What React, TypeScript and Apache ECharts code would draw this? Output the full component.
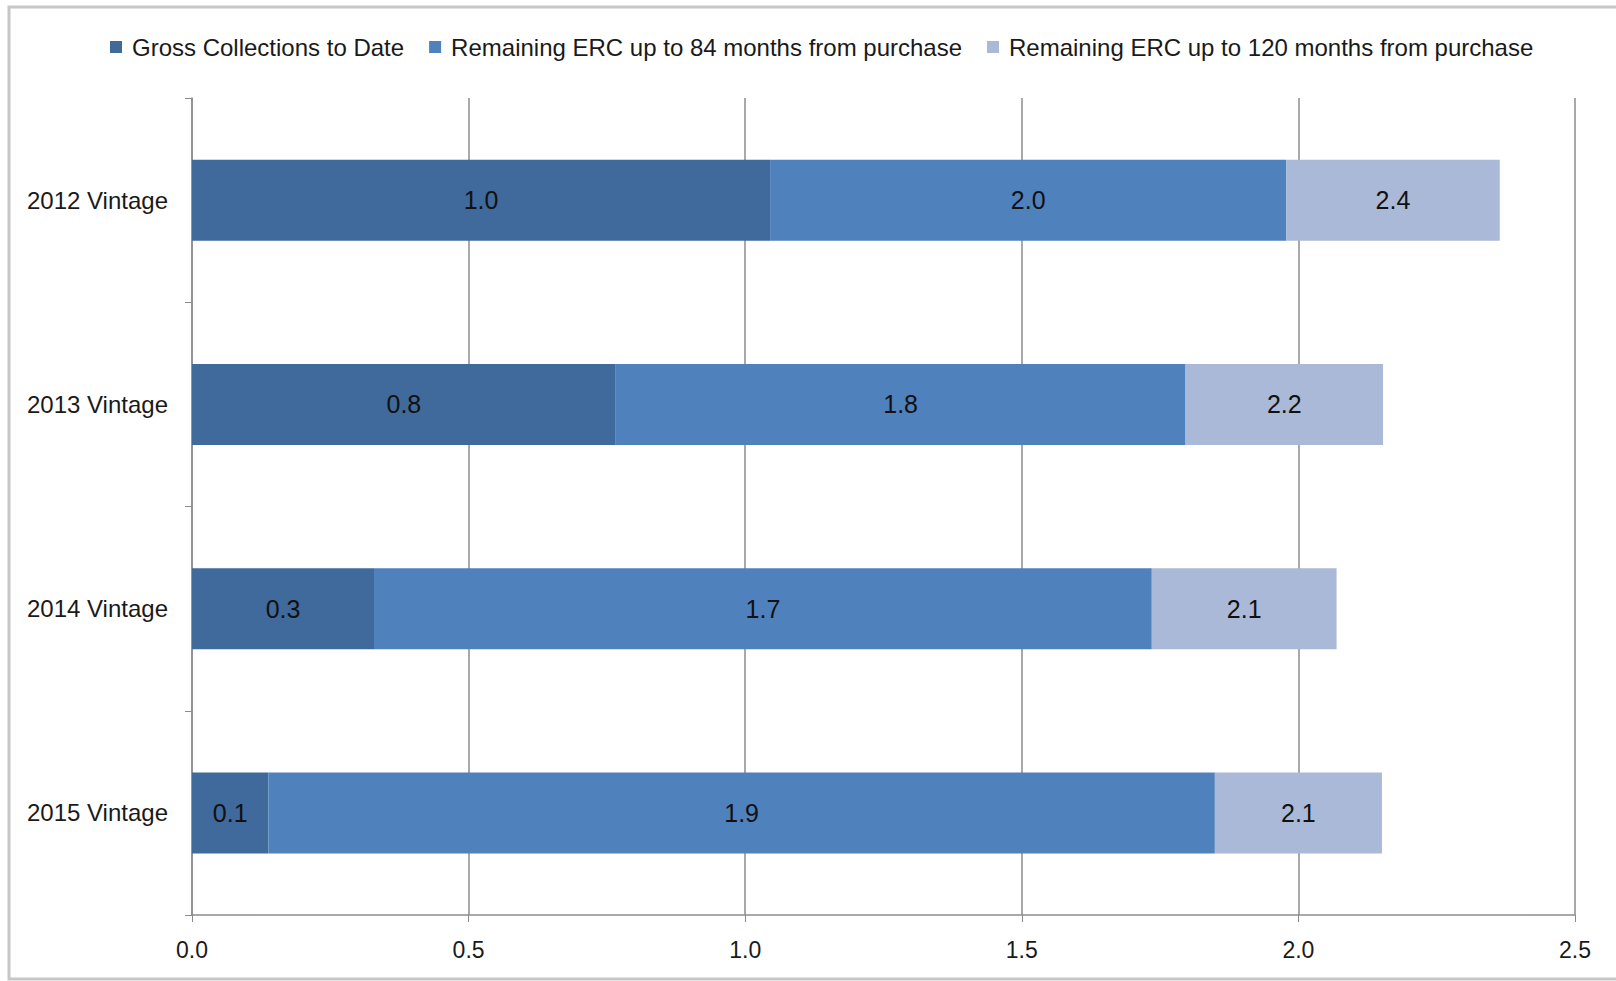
import React, { useEffect, useRef } from "react";
import * as echarts from "echarts";

const categories = ["2012 Vintage", "2013 Vintage", "2014 Vintage", "2015 Vintage"];
const seriesNames = [
  "Gross Collections to Date",
  "Remaining ERC up to 84 months from purchase",
  "Remaining ERC up to 120 months from purchase",
];
// segment lengths (stacked)
const grossCollections = [1.045, 0.766, 0.329, 0.138];
const remaining84 = [0.933, 1.03, 1.406, 1.711];
const remaining120 = [0.386, 0.357, 0.334, 0.302];
// data labels as printed on the chart
const grossLabels = ["1.0", "0.8", "0.3", "0.1"];
const remaining84Labels = ["2.0", "1.8", "1.7", "1.9"];
const remaining120Labels = ["2.4", "2.2", "2.1", "2.1"];
const xTicks = { min: 0, max: 2.5, interval: 0.5 };

const colors = ["#3F6A9B", "#4F81BD", "#AAB9D7"];
const FONT = "'Liberation Sans', Arial, sans-serif";

export default function App() {
  const ref = useRef<HTMLDivElement>(null);
  useEffect(() => {
    if (!ref.current) return;
    const chart = echarts.init(ref.current, undefined, { renderer: "svg" });
    const values = [grossCollections, remaining84, remaining120];
    const labels = [grossLabels, remaining84Labels, remaining120Labels];
    chart.setOption({
      animation: false,
      backgroundColor: "#ffffff",
      textStyle: { fontFamily: FONT },
      graphic: [
        {
          type: "rect",
          shape: { x: 9, y: 7, width: 1630, height: 972 },
          style: { fill: "none", stroke: "#c6c6c6", lineWidth: 3 },
          silent: true,
        },
      ],
      legend: {
        top: 30,
        left: 105,
        itemWidth: 12,
        itemHeight: 12,
        itemGap: 25,
        icon: "rect",
        textStyle: { fontFamily: FONT, fontSize: 24, color: "#1a1a1a", padding: [0, 0, 0, 5] },
        data: seriesNames,
      },
      grid: { left: 192, right: 41, top: 98, bottom: 66, containLabel: false },
      xAxis: {
        type: "value",
        min: xTicks.min,
        max: xTicks.max,
        interval: xTicks.interval,
        axisLine: { show: true, lineStyle: { color: "#8c8c8c", width: 1.5 } },
        axisTick: { show: true, length: 7, lineStyle: { color: "#8c8c8c" } },
        splitLine: { show: true, lineStyle: { color: "#8c8c8c", width: 1.5 } },
        axisLabel: {
          margin: 23,
          fontFamily: FONT,
          fontSize: 23,
          color: "#1a1a1a",
          formatter: (v: number) => v.toFixed(1),
        },
      },
      yAxis: {
        type: "category",
        inverse: true,
        data: categories,
        axisLine: { show: true, lineStyle: { color: "#8c8c8c", width: 1.5 } },
        axisTick: { show: true, length: 7, lineStyle: { color: "#8c8c8c" } },
        axisLabel: { margin: 24, fontFamily: FONT, fontSize: 24, color: "#1a1a1a" },
      },
      series: seriesNames.map((name, i) => ({
        name,
        type: "bar",
        stack: "total",
        barWidth: 81,
        itemStyle: { color: colors[i] },
        label: {
          show: true,
          position: "inside",
          fontFamily: FONT,
          fontSize: 25,
          color: "#111111",
          formatter: (p: any) => labels[i][p.dataIndex],
        },
        data: values[i],
      })),
    });
    return () => chart.dispose();
  }, []);
  return (
    <div
      ref={ref}
      style={{ position: "fixed", left: 0, top: 0, width: 1616, height: 981 }}
    />
  );
}
